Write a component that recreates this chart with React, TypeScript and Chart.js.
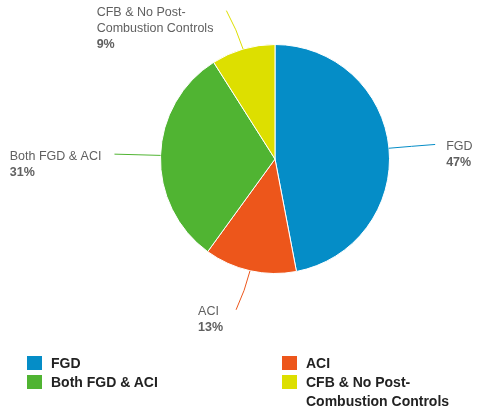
import React, { useEffect, useRef } from "react";
import { Chart, registerables } from "chart.js";

Chart.register(...registerables);

const categories = ["FGD", "ACI", "Both FGD & ACI", "CFB & No Post-Combustion Controls"];
const shares = [47, 13, 31, 9];
const colors = ["#058DC7", "#ED561B", "#50B432", "#DDDF00"];

const LABEL_FONT = '12.5px "Liberation Sans", Arial, sans-serif';
const LABEL_FONT_BOLD = 'bold 12.5px "Liberation Sans", Arial, sans-serif';

function wrap(ctx: CanvasRenderingContext2D, text: string, maxW: number): string[] {
  const tokens = text.match(/[^\s-]+-?|\s+/g) || [text];
  const lines: string[] = [];
  let cur = "";
  for (const t of tokens) {
    const trial = cur + t;
    if (cur.trim() && ctx.measureText(trial.trimEnd()).width > maxW) {
      lines.push(cur.trimEnd());
      cur = t.trimStart();
    } else cur = trial;
  }
  if (cur.trim()) lines.push(cur.trimEnd());
  return lines;
}

const labelPlugin = {
  id: "pieLabels",
  afterDraw(chart: any) {
    const ctx: CanvasRenderingContext2D = chart.ctx;
    const meta = chart.getDatasetMeta(0);
    meta.data.forEach((arc: any, i: number) => {
      const { x, y, outerRadius, startAngle, endAngle } = arc.getProps(
        ["x", "y", "outerRadius", "startAngle", "endAngle"],
        true
      );
      const mid = (startAngle + endAngle) / 2;
      const dx = Math.cos(mid);
      const dy = Math.sin(mid);
      const left = dx < 0;
      const p0 = { x: x + dx * outerRadius, y: y + dy * outerRadius };
      const c = { x: x + dx * (outerRadius + 22), y: y + dy * (outerRadius + 20) };
      const end = {
        x: x + dx * (outerRadius + 46) + (left ? -1 : 1) * 4 * Math.abs(dy),
        y: y + dy * (outerRadius + 40),
      };
      ctx.save();
      ctx.strokeStyle = colors[i];
      ctx.lineWidth = 1;
      ctx.beginPath();
      ctx.moveTo(p0.x, p0.y);
      ctx.quadraticCurveTo(c.x, c.y, end.x, end.y);
      ctx.stroke();

      ctx.font = LABEL_FONT;
      const lines = wrap(ctx, categories[i], 130);
      const pct = shares[i] + "%";
      let maxW = 0;
      lines.forEach((l) => (maxW = Math.max(maxW, ctx.measureText(l).width)));
      ctx.font = LABEL_FONT_BOLD;
      maxW = Math.max(maxW, ctx.measureText(pct).width);
      const tx = left ? end.x - 13 - maxW : end.x + 11;
      let ty = end.y + 2;
      ctx.fillStyle = "#606060";
      ctx.textAlign = "left";
      ctx.textBaseline = "middle";
      ctx.font = LABEL_FONT;
      lines.forEach((l) => {
        ctx.fillText(l, tx, ty);
        ty += 16;
      });
      ctx.font = LABEL_FONT_BOLD;
      ctx.fillText(pct, tx, ty);
      ctx.restore();
    });
  },
};

export default function App() {
  const ref = useRef<HTMLCanvasElement>(null);
  useEffect(() => {
    if (!ref.current) return;
    const chart = new Chart(ref.current, {
      type: "pie",
      data: {
        labels: categories,
        datasets: [
          {
            data: shares,
            backgroundColor: colors,
            borderColor: "#ffffff",
            borderWidth: 1,
          },
        ],
      },
      options: {
        responsive: false,
        animation: false,
        layout: { padding: { top: 44, bottom: 136, left: 160, right: 87 } },
        plugins: { legend: { display: false }, tooltip: { enabled: false } },
      },
      plugins: [labelPlugin],
    });
    return () => chart.destroy();
  }, []);

  return (
    <div
      style={{
        position: "absolute",
        left: 0,
        top: 0,
        width: 477,
        height: 410,
        background: "#fff",
        overflow: "hidden",
      }}
    >
      <canvas ref={ref} width={477} height={410} style={{ position: "absolute", left: 0, top: 0 }} />
      <div
        style={{
          position: "absolute",
          left: 27,
          top: 354,
          display: "grid",
          gridTemplateColumns: "255px 180px",
          fontFamily: '"Liberation Sans", Arial, sans-serif',
          fontWeight: "bold",
          fontSize: 14,
          lineHeight: "19px",
          color: "#222",
        }}
      >
        {categories.map((c, i) => (
          <div key={c} style={{ display: "flex", alignItems: "flex-start" }}>
            <div
              style={{
                width: 15,
                height: 14,
                marginTop: 2,
                marginRight: 9,
                background: colors[i],
                flex: "none",
              }}
            />
            <div style={{ width: 160 }}>{c}</div>
          </div>
        ))}
      </div>
    </div>
  );
}
